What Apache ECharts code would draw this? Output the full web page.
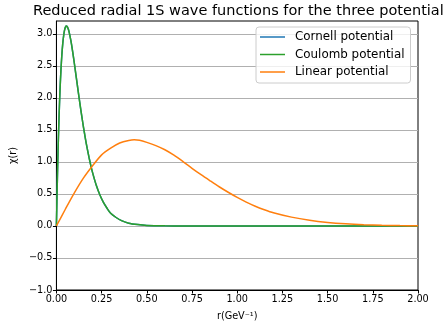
<!DOCTYPE html>
<html>
<head>
<meta charset="utf-8">
<script src="https://cdn.jsdelivr.net/npm/echarts@6/dist/echarts.min.js"></script>
<style>html,body{margin:0;padding:0;background:#fff}#c{width:446px;height:329px}</style>
</head>
<body>
<div id="c"></div>
<script>
// r values (GeV^-1) and reduced wave functions chi(r)
const shortR = [0, 0.005, 0.01, 0.015, 0.02, 0.025, 0.03, 0.035, 0.04, 0.045, 0.05, 0.055, 0.06, 0.065, 0.07, 0.08, 0.09, 0.10, 0.11, 0.12, 0.13, 0.14, 0.15, 0.16, 0.17, 0.18, 0.19, 0.20, 0.22, 0.24, 0.26, 0.28, 0.30, 0.33, 0.36, 0.40, 0.45, 0.50, 0.60, 0.70, 0.80, 1.00, 1.25, 1.50, 1.75, 2.00];
const cornellChi = [0, 0.70, 1.276, 1.749, 2.132, 2.435, 2.670, 2.847, 2.973, 3.057, 3.104, 3.12, 3.110, 3.079, 3.030, 2.892, 2.718, 2.521, 2.316, 2.110, 1.909, 1.717, 1.537, 1.368, 1.214, 1.074, 0.947, 0.832, 0.638, 0.486, 0.367, 0.276, 0.198, 0.132, 0.084, 0.043, 0.021, 0.009, 0.002, 0.0003, 0, 0, 0, 0, 0, 0];
const coulombChi = [0, 0.70, 1.276, 1.749, 2.132, 2.435, 2.670, 2.847, 2.973, 3.057, 3.104, 3.12, 3.110, 3.079, 3.030, 2.892, 2.718, 2.521, 2.316, 2.110, 1.909, 1.717, 1.537, 1.368, 1.214, 1.074, 0.947, 0.832, 0.638, 0.486, 0.367, 0.276, 0.198, 0.132, 0.084, 0.043, 0.021, 0.009, 0.002, 0.0003, 0, 0, 0, 0, 0, 0];
const linearR = [0, 0.05, 0.10, 0.15, 0.20, 0.25, 0.30, 0.35, 0.40, 0.43, 0.46, 0.50, 0.55, 0.60, 0.65, 0.70, 0.75, 0.80, 0.85, 0.90, 0.95, 1.00, 1.05, 1.10, 1.15, 1.20, 1.30, 1.40, 1.50, 1.60, 1.70, 1.80, 1.90, 2.00];
const linearChi = [0, 0.265, 0.52, 0.75, 0.94, 1.11, 1.215, 1.295, 1.335, 1.345, 1.337, 1.305, 1.255, 1.19, 1.105, 1.005, 0.90, 0.80, 0.705, 0.612, 0.526, 0.445, 0.372, 0.308, 0.254, 0.207, 0.138, 0.089, 0.055, 0.033, 0.019, 0.011, 0.006, 0.0035];
const xTicks = [0, 0.25, 0.5, 0.75, 1.0, 1.25, 1.5, 1.75, 2.0];
const yTicks = [-1.0, -0.5, 0.0, 0.5, 1.0, 1.5, 2.0, 2.5, 3.0];
const seriesNames = ['Cornell potential', 'Coulomb potential', 'Linear potential'];

const pairs = (xs, ys) => xs.map((x, i) => [x, ys[i]]);
const font = 'DejaVu Sans';
const fmtY = v => (v < 0 ? '\u2212' : '') + Math.abs(v).toFixed(1);

const chart = echarts.init(document.getElementById('c'), null, {renderer: 'canvas'});
chart.setOption({
  animation: false,
  backgroundColor: '#fff',
  title: {
    text: 'Reduced radial 1S wave functions for the three potential',
    left: 33, top: 4, padding: 0,
    textStyle: {fontFamily: font, fontSize: 14.5, fontWeight: 'normal', color: '#000', overflow: 'none'}
  },
  legend: {
    orient: 'vertical', left: 256, top: 27,
    padding: [4, 6, 5, 4],
    itemGap: 5.5, itemWidth: 25, itemHeight: 1.5, icon: 'rect',
    backgroundColor: 'rgba(255,255,255,0.8)',
    borderColor: '#cccccc', borderWidth: 1, borderRadius: 3,
    textStyle: {fontFamily: font, fontSize: 11.9, color: '#000', padding: [0, 0, 0, 5]},
    data: seriesNames
  },
  grid: {left: 56, right: 28, top: 21, bottom: 39, show: true, borderColor: '#000', borderWidth: 1, backgroundColor: 'transparent'},
  xAxis: {
    type: 'value', min: 0, max: 2, interval: 0.25,
    name: 'r(GeV\u207B\u00B9)', nameLocation: 'middle', nameGap: 21,
    nameTextStyle: {fontFamily: font, fontSize: 9.7, color: '#000'},
    axisLine: {show: true, onZero: false, lineStyle: {color: '#000', width: 1}},
    axisTick: {show: true, inside: false, length: 3.5, lineStyle: {color: '#000'}, customValues: xTicks},
    axisLabel: {fontFamily: font, fontSize: 9.7, color: '#000', margin: 4, customValues: xTicks, formatter: v => v.toFixed(2)},
    splitLine: {show: false}
  },
  yAxis: {
    type: 'value', min: -1, max: 3.2, interval: 0.5,
    name: '\u03C7(r)', nameLocation: 'middle', nameGap: 35,
    nameTextStyle: {fontFamily: font, fontSize: 9.7, color: '#000'},
    axisLine: {show: true, onZero: false, lineStyle: {color: '#000', width: 1}},
    axisTick: {show: true, inside: false, length: 3.5, lineStyle: {color: '#000'}, customValues: yTicks},
    axisLabel: {fontFamily: font, fontSize: 9.7, color: '#000', margin: 4, customValues: yTicks, formatter: fmtY},
    splitLine: {show: true, lineStyle: {color: '#b0b0b0', width: 1}}
  },
  series: [
    {name: seriesNames[0], type: 'line', data: pairs(shortR, cornellChi), smooth: 0.25, showSymbol: false, symbol: 'none', lineStyle: {width: 1.5, color: '#1f77b4'}, itemStyle: {color: '#1f77b4'}},
    {name: seriesNames[1], type: 'line', data: pairs(shortR, coulombChi), smooth: 0.25, showSymbol: false, symbol: 'none', lineStyle: {width: 1.5, color: '#2ca02c'}, itemStyle: {color: '#2ca02c'}},
    {name: seriesNames[2], type: 'line', data: pairs(linearR, linearChi), smooth: 0.25, showSymbol: false, symbol: 'none', lineStyle: {width: 1.5, color: '#ff7f0e'}, itemStyle: {color: '#ff7f0e'}}
  ]
});
</script>
</body>
</html>
